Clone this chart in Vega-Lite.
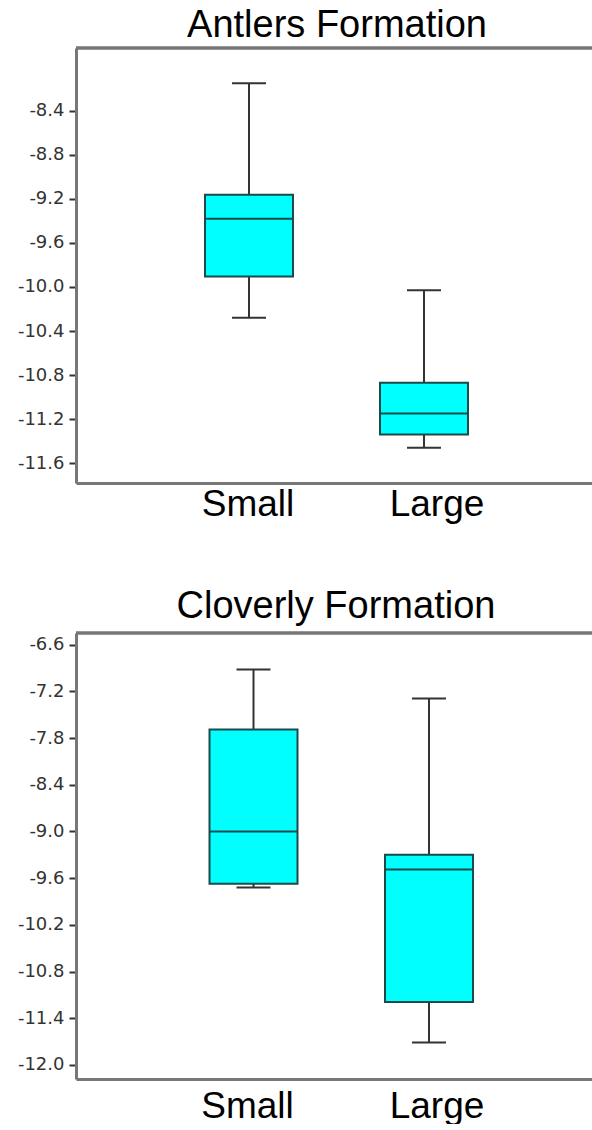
{
  "$schema": "https://vega.github.io/schema/vega-lite/v6.json",
  "padding": {"left": 5, "top": 6, "right": 0, "bottom": 0},
  "background": "white",
  "spacing": 65,
  "columns": 1,
  "align": "none",
  "bounds": "full",
  "datasets": {
    "antlers": [
      {"size": "Small", "lower": -10.28, "q1": -9.905, "median": -9.38, "q3": -9.163, "upper": -8.15},
      {"size": "Large", "lower": -11.46, "q1": -11.34, "median": -11.15, "q3": -10.87, "upper": -10.03}
    ],
    "cloverly": [
      {"size": "Small", "lower": -9.72, "q1": -9.67, "median": -9.0, "q3": -7.69, "upper": -6.92},
      {"size": "Large", "lower": -11.71, "q1": -11.19, "median": -9.49, "q3": -9.30, "upper": -7.29}
    ]
  },
  "config": {
    "view": {"stroke": null},
    "axis": {
      "grid": false,
      "domainColor": "#777777",
      "domainWidth": 3,
      "title": null
    },
    "axisY": {
      "labelFont": "DejaVu Sans",
      "labelFontSize": 18,
      "labelColor": "#333333",
      "tickColor": "#333333",
      "tickWidth": 2,
      "tickSize": 7,
      "labelPadding": 5,
      "minExtent": 71,
      "maxExtent": 71
    },
    "axisX": {
      "labelFont": "Liberation Sans",
      "labelFontSize": 37,
      "labelColor": "#000000",
      "ticks": false,
      "labelAngle": 0,
      "labelPadding": 3
    },
    "title": {
      "font": "Liberation Sans",
      "fontSize": 38,
      "fontWeight": "normal",
      "color": "#000000",
      "anchor": "middle",
      "baseline": "alphabetic",
      "offset": 2
    }
  },
  "concat": [
    {
      "title": {"text": "Antlers Formation", "dx": 3},
      "width": 516,
      "height": 435,
      "data": {"name": "antlers"},
      "layer": [
        {
          "mark": {"type": "rule", "color": "#333333", "strokeWidth": 2},
          "encoding": {
            "x": {"field": "size", "type": "nominal", "sort": ["Small", "Large"],
              "scale": {"paddingInner": 0, "paddingOuter": 0.4743, "align": 0.515},
              "axis": {"title": null, "labelOffset": {"condition": {"test": "datum.value === 'Large'", "value": 13}, "value": -1}}},
            "y": {"field": "lower", "type": "quantitative",
              "scale": {"domain": [-11.78, -7.83], "nice": false, "zero": false},
              "axis": {"values": [-8.4, -8.8, -9.2, -9.6, -10.0, -10.4, -10.8, -11.2, -11.6],
                "labelExpr": "replace(format(datum.value, '.1f'), '\u2212', '-')"}},
            "y2": {"field": "upper"}
          }
        },
        {
          "mark": {"type": "bar", "width": 88, "fill": "#00FFFF", "stroke": "#1c4a4a", "strokeWidth": 2},
          "encoding": {
            "x": {"field": "size", "type": "nominal", "sort": ["Small", "Large"]},
            "y": {"field": "q1", "type": "quantitative"}, "y2": {"field": "q3"}}
        },
        {
          "mark": {"type": "tick", "size": 88, "thickness": 2, "color": "#1c4a4a", "opacity": 1},
          "encoding": {
            "x": {"field": "size", "type": "nominal", "sort": ["Small", "Large"]},
            "y": {"field": "median", "type": "quantitative"}}
        },
        {
          "mark": {"type": "tick", "size": 34, "thickness": 2, "color": "#333333", "opacity": 1},
          "encoding": {
            "x": {"field": "size", "type": "nominal", "sort": ["Small", "Large"]},
            "y": {"field": "lower", "type": "quantitative"}}
        },
        {
          "mark": {"type": "tick", "size": 34, "thickness": 2, "color": "#333333", "opacity": 1},
          "encoding": {
            "x": {"field": "size", "type": "nominal", "sort": ["Small", "Large"]},
            "y": {"field": "upper", "type": "quantitative"}}
        },
        {
          "mark": {"type": "rule", "color": "#777777", "strokeWidth": 3},
          "encoding": {"y": {"datum": -7.83, "type": "quantitative"}}
        }
      ]
    },
    {
      "title": {"text": "Cloverly Formation", "offset": 6, "dx": 2},
      "width": 516,
      "height": 446,
      "data": {"name": "cloverly"},
      "layer": [
        {
          "mark": {"type": "rule", "color": "#333333", "strokeWidth": 2},
          "encoding": {
            "x": {"field": "size", "type": "nominal", "sort": ["Small", "Large"],
              "scale": {"paddingInner": 0, "paddingOuter": 0.470, "align": 0.544},
              "axis": {"title": null, "labelPadding": 9, "labelOffset": {"condition": {"test": "datum.value === 'Large'", "value": 8}, "value": -6}}},
            "y": {"field": "lower", "type": "quantitative",
              "scale": {"domain": [-12.18, -6.45], "nice": false, "zero": false},
              "axis": {"values": [-6.6, -7.2, -7.8, -8.4, -9.0, -9.6, -10.2, -10.8, -11.4, -12.0],
                "labelExpr": "replace(format(datum.value, '.1f'), '\u2212', '-')"}},
            "y2": {"field": "upper"}
          }
        },
        {
          "mark": {"type": "bar", "width": 88, "fill": "#00FFFF", "stroke": "#1c4a4a", "strokeWidth": 2},
          "encoding": {
            "x": {"field": "size", "type": "nominal", "sort": ["Small", "Large"]},
            "y": {"field": "q1", "type": "quantitative"}, "y2": {"field": "q3"}}
        },
        {
          "mark": {"type": "tick", "size": 88, "thickness": 2, "color": "#1c4a4a", "opacity": 1},
          "encoding": {
            "x": {"field": "size", "type": "nominal", "sort": ["Small", "Large"]},
            "y": {"field": "median", "type": "quantitative"}}
        },
        {
          "mark": {"type": "tick", "size": 34, "thickness": 2, "color": "#333333", "opacity": 1},
          "encoding": {
            "x": {"field": "size", "type": "nominal", "sort": ["Small", "Large"]},
            "y": {"field": "lower", "type": "quantitative"}}
        },
        {
          "mark": {"type": "tick", "size": 34, "thickness": 2, "color": "#333333", "opacity": 1},
          "encoding": {
            "x": {"field": "size", "type": "nominal", "sort": ["Small", "Large"]},
            "y": {"field": "upper", "type": "quantitative"}}
        },
        {
          "mark": {"type": "rule", "color": "#777777", "strokeWidth": 3},
          "encoding": {"y": {"datum": -6.45, "type": "quantitative"}}
        }
      ]
    }
  ]
}
